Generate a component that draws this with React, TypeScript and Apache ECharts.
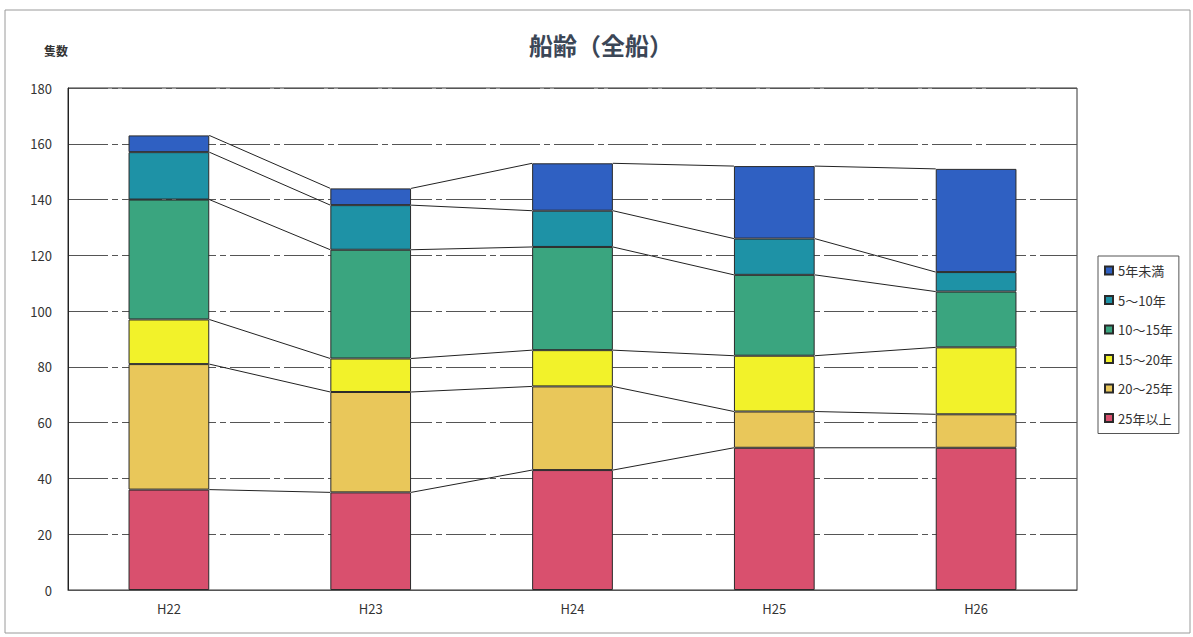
import React, { useEffect, useRef } from "react";
import * as echarts from "echarts";

const categories = ["H22", "H23", "H24", "H25", "H26"];
const over25 = [36, 35, 43, 51, 51];
const y20to25 = [45, 36, 30, 13, 12];
const y15to20 = [16, 12, 13, 20, 24];
const y10to15 = [43, 39, 37, 29, 20];
const y5to10 = [17, 16, 13, 13, 7];
const under5 = [6, 6, 17, 26, 37];
const yTicks = [0, 20, 40, 60, 80, 100, 120, 140, 160, 180];

const seriesDefs = [
  { name: "25年以上", data: over25, color: "#d9506e" },
  { name: "20～25年", data: y20to25, color: "#e9c75a" },
  { name: "15～20年", data: y15to20, color: "#f2f22a" },
  { name: "10～15年", data: y10to15, color: "#3aa57f" },
  { name: "5～10年", data: y5to10, color: "#1e92a6" },
  { name: "5年未満", data: under5, color: "#2f60c2" },
];

const FONT = "'Noto Sans CJK JP', 'Liberation Sans', sans-serif";

export default function App() {
  const ref = useRef<HTMLDivElement>(null);
  useEffect(() => {
    if (!ref.current) return;
    const chart = echarts.init(ref.current, null, { renderer: "svg" });

    const cum: number[][] = [];
    let run = categories.map(() => 0);
    seriesDefs.forEach((s) => {
      run = run.map((v, i) => v + s.data[i]);
      cum.push(run.slice());
    });

    const bars = seriesDefs.map((s) => ({
      name: s.name,
      type: "bar",
      stack: "total",
      barWidth: "40%",
      data: s.data,
      itemStyle: {
        color: s.color,
        borderColor: "#2a2a2a",
        borderWidth: 1,
      },
      emphasis: { disabled: true },
    }));

    const option: any = {
      animation: false,
      backgroundColor: "#ffffff",
      textStyle: { fontFamily: FONT },
      title: {
        text: "船齢（全船）",
        left: 596,
        top: 27,
        textAlign: "center",
        textStyle: { fontSize: 24, fontWeight: "bold", color: "#3b4656", fontFamily: FONT },
      },
      graphic: [
        {
          type: "rect",
          shape: { x: 5, y: 10, width: 1185, height: 623 },
          style: { fill: "none", stroke: "#9a9a9a", lineWidth: 1 },
          silent: true,
        },
        {
          type: "text",
          left: 44,
          top: 44,
          style: { text: "隻数", fontSize: 12, fontWeight: "bold", fill: "#333", fontFamily: FONT },
        },
      ],
      legend: {
        orient: "vertical",
        left: 1098,
        top: 256,
        width: 90,
        data: ["5年未満", "5～10年", "10～15年", "15～20年", "20～25年", "25年以上"],
        icon: "rect",
        itemWidth: 8,
        itemHeight: 8,
        itemGap: 16.5,
        padding: [8, 6, 9, 6],
        borderColor: "#555",
        borderWidth: 1,
        textStyle: { fontSize: 13, color: "#333", fontFamily: FONT },
      },
      grid: { left: 68, right: 116, top: 88, bottom: 47, show: true, borderColor: "#333", borderWidth: 1 },
      xAxis: {
        type: "category",
        data: categories,
        axisLine: { lineStyle: { color: "#555" } },
        axisTick: { show: false },
        axisLabel: { fontSize: 13, color: "#333", margin: 12, fontFamily: FONT },
      },
      yAxis: {
        type: "value",
        min: yTicks[0],
        max: yTicks[yTicks.length - 1],
        interval: 20,
        axisLine: { show: true, lineStyle: { color: "#222" } },
        axisTick: { show: false },
        axisLabel: { fontSize: 13, color: "#333", margin: 16, fontFamily: FONT },
        splitLine: { lineStyle: { color: "#555", width: 1, type: [40, 4, 6, 4] } },
      },
      series: [
        ...bars,
        {
          type: "custom",
          silent: true,
          z: 5,
          data: categories.slice(0, -1).map((_, i) => [i, i + 1]),
          encode: { x: 0 },
          renderItem: (params: any, api: any) => {
            const i = api.value(0) as number;
            const half = api.size([1, 0])[0] * 0.2;
            const children = cum.map((levels) => {
              const p1 = api.coord([i, levels[i]]);
              const p2 = api.coord([i + 1, levels[i + 1]]);
              return {
                type: "line",
                shape: { x1: p1[0] + half, y1: p1[1], x2: p2[0] - half, y2: p2[1] },
                style: { stroke: "#222", lineWidth: 1 },
              };
            });
            return { type: "group", children };
          },
        },
      ],
    };
    chart.setOption(option);
    return () => chart.dispose();
  }, []);

  return (
    <div
      ref={ref}
      style={{ position: "fixed", left: 0, top: 0, width: "1193px", height: "637px" }}
    />
  );
}
